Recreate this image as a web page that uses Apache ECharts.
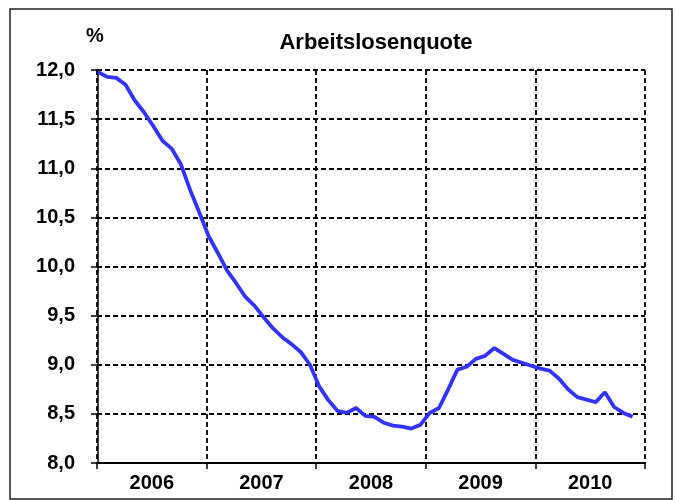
<!DOCTYPE html>
<html>
<head>
<meta charset="utf-8">
<script src="https://cdn.jsdelivr.net/npm/echarts@6/dist/echarts.min.js"></script>
<style>html,body{margin:0;padding:0;background:#fff;}#chart{width:676px;height:500px;}</style>
</head>
<body>
<div id="chart"></div>
<script>
// Year categories on the x axis
const years = ['2006', '2007', '2008', '2009', '2010'];
// Monthly unemployment rate (%), Jan 2006 – Nov 2010
const rate = [
  11.98, 11.93, 11.92, 11.85, 11.69, 11.57, 11.43, 11.28, 11.20, 11.04, 10.78, 10.55,
  10.31, 10.14, 9.96, 9.83, 9.69, 9.60, 9.48, 9.37, 9.28, 9.21, 9.13, 9.00,
  8.78, 8.64, 8.53, 8.51, 8.56, 8.48, 8.47, 8.41, 8.38, 8.37, 8.35, 8.39,
  8.51, 8.56, 8.75, 8.95, 8.98, 9.06, 9.09, 9.17, 9.11, 9.05, 9.02, 8.99,
  8.96, 8.94, 8.86, 8.75, 8.67, 8.645, 8.62, 8.72, 8.57, 8.51, 8.47
];
// y-axis range and step
const yMin = 8, yMax = 12, yStep = 0.5;

const FONT = 'Liberation Sans';
const chart = echarts.init(document.getElementById('chart'), null, {renderer: 'canvas'});
const dash = {color: '#000', type: [5, 3], width: 1.8};
chart.setOption({
  animation: false,
  backgroundColor: '#ffffff',
  title: {
    text: 'Arbeitslosenquote',
    left: 371, top: 27, textAlign: 'center',
    textStyle: {fontFamily: FONT, fontWeight: 'bold', fontSize: 22, color: '#000'}
  },
  graphic: [{
    type: 'rect', silent: true,
    shape: {x: 10, y: 9, width: 662, height: 490},
    style: {fill: 'none', stroke: '#222', lineWidth: 1.5}
  }],
  grid: {left: 97, right: 31, top: 70, bottom: 37},
  xAxis: [{
    type: 'category', data: years, boundaryGap: true,
    axisLine: {show: true, lineStyle: {color: '#000', width: 2}},
    axisTick: {show: true, interval: 0, length: 6, lineStyle: {color: '#000', width: 1.5}},
    axisLabel: {interval: 0, margin: 10, color: '#000', fontSize: 20, fontWeight: 'bold', fontFamily: FONT},
    splitLine: {show: true, interval: 0, lineStyle: dash}
  }, {
    type: 'value', min: -0.1, max: 59.35, show: false
  }],
  yAxis: {
    type: 'value', min: yMin, max: yMax, interval: yStep,
    name: '%', nameLocation: 'end', nameGap: 24,
    nameTextStyle: {fontFamily: FONT, fontWeight: 'bold', fontSize: 20, color: '#000', align: 'center', padding: [0, 6, 0, 0]},
    axisLine: {show: true, lineStyle: {color: '#000', width: 1.5}},
    axisTick: {show: true, length: 7, lineStyle: {color: '#000', width: 1.5}},
    axisLabel: {
      margin: 22, color: '#000', fontSize: 20, fontWeight: 'bold', fontFamily: FONT,
      formatter: v => v.toFixed(1).replace('.', ',')
    },
    splitLine: {show: true, lineStyle: dash}
  },
  series: [{
    type: 'line', xAxisIndex: 1,
    data: rate.map((v, i) => [i, v]),
    symbol: 'none', smooth: false,
    lineStyle: {color: '#3333ff', width: 3.8}
  }]
});
</script>
</body>
</html>
